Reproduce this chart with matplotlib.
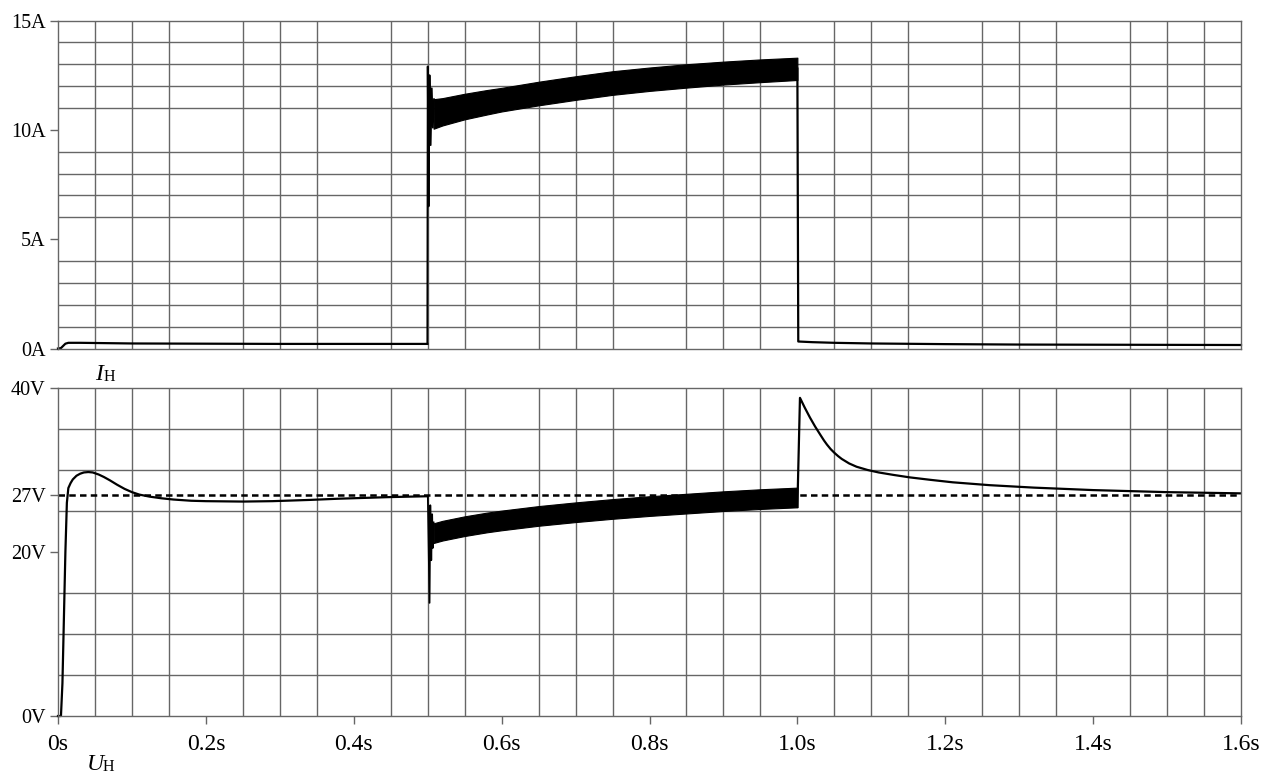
import matplotlib
matplotlib.use("Agg")
import matplotlib.pyplot as plt
from matplotlib.ticker import MultipleLocator

plt.rcParams['font.family'] = ['Liberation Serif', 'DejaVu Serif']

# ---------------- data ----------------
# current I_H (A)
t_i_base = [0.0, 0.004, 0.007, 0.010, 0.014, 0.03, 0.1, 0.3, 0.4995]
i_base = [0.0, 0.02, 0.12, 0.22, 0.26, 0.26, 0.23, 0.21, 0.21]

t_i_ring = [0.4995, 0.5, 0.5012, 0.5025, 0.504, 0.5055, 0.507, 0.5085]
i_ring = [0.21, 12.9, 6.5, 12.5, 9.3, 11.9, 10.1, 11.4]

# envelope of the switching ripple between 0.5 s and 1.0 s
t_env = [0.508, 0.52, 0.55, 0.58, 0.6, 0.65, 0.7, 0.75, 0.8, 0.85, 0.9, 0.95, 1.0]
i_env_hi = [11.4, 11.45, 11.65, 11.82, 11.92, 12.2, 12.45, 12.68, 12.85, 13.0, 13.12, 13.22, 13.3]
i_env_lo = [10.05, 10.2, 10.48, 10.7, 10.84, 11.12, 11.37, 11.6, 11.78, 11.93, 12.07, 12.18, 12.28]

t_i_tail = [1.0, 1.0012, 1.02, 1.05, 1.1, 1.2, 1.3, 1.45, 1.6]
i_tail = [12.8, 0.32, 0.29, 0.26, 0.23, 0.2, 0.18, 0.17, 0.16]

# voltage U_H (V)
t_u_start = [0.0, 0.004, 0.006, 0.008, 0.010, 0.012, 0.014, 0.017, 0.02, 0.025,
             0.03, 0.035, 0.041, 0.047, 0.055, 0.062, 0.07, 0.08, 0.09, 0.1,
             0.11, 0.124, 0.14, 0.156, 0.18, 0.2, 0.25, 0.29, 0.34, 0.38,
             0.45, 0.4998]
u_start = [0.0, 0.0, 4.0, 12.0, 20.0, 26.0, 27.8, 28.4, 28.85, 29.3,
           29.55, 29.7, 29.75, 29.7, 29.45, 29.15, 28.75, 28.2, 27.7, 27.3,
           27.0, 26.75, 26.55, 26.4, 26.25, 26.2, 26.15, 26.2, 26.35, 26.5,
           26.7, 26.8]

t_u_ring = [0.4998, 0.5002, 0.5025, 0.5035, 0.5048, 0.506, 0.507, 0.508]
u_ring = [26.8, 26.8, 13.8, 25.7, 19.0, 24.6, 20.5, 23.6]

u_env_hi = [23.5, 23.8, 24.35, 24.8, 25.05, 25.6, 26.05, 26.45, 26.8, 27.1, 27.4, 27.65, 27.85]
u_env_lo = [21.1, 21.4, 21.95, 22.4, 22.65, 23.2, 23.65, 24.05, 24.4, 24.7, 25.0, 25.25, 25.45]

t_u_tail = [1.0, 1.0035, 1.01, 1.017, 1.024, 1.031, 1.036, 1.04, 1.045, 1.05,
            1.055, 1.06, 1.07, 1.08, 1.095, 1.11, 1.13, 1.152, 1.18, 1.21,
            1.26, 1.32, 1.4, 1.5, 1.6]
u_tail = [25.5, 38.8, 37.6, 36.4, 35.3, 34.3, 33.6, 33.1, 32.55, 32.1,
          31.7, 31.35, 30.8, 30.4, 30.0, 29.7, 29.4, 29.1, 28.8, 28.5,
          28.15, 27.85, 27.55, 27.3, 27.15]

u_ref = 27.0

x_ticks = [0.0, 0.2, 0.4, 0.6, 0.8, 1.0, 1.2, 1.4, 1.6]
x_tick_labels = ['0s', '0.2s', '0.4s', '0.6s', '0.8s', '1.0s', '1.2s', '1.4s', '1.6s']
i_ticks = [0, 5, 10, 15]
i_tick_labels = ['0A', '5A', '10A', '15A']
u_ticks = [0, 20, 27, 40]
u_tick_labels = ['0V', '20V', '27V', '40V']

# ---------------- figure ----------------
W, H = 1264, 773
fig = plt.figure(figsize=(W / 100, H / 100), dpi=100)
fig.patch.set_facecolor('white')

def px_box(x0, y0, x1, y1):
    return [x0 / W, 1 - y1 / H, (x1 - x0) / W, (y1 - y0) / H]

ax_i = fig.add_axes(px_box(58, 20.5, 1241, 348.5))
ax_u = fig.add_axes(px_box(58, 388, 1241, 716))

GRID = '#666666'

def style(ax, ymax, ystep, yticks, ylabels, show_x):
    ax.set_xlim(0, 1.6)
    ax.set_ylim(0, ymax)
    ax.xaxis.set_minor_locator(MultipleLocator(0.05))
    ax.yaxis.set_minor_locator(MultipleLocator(ystep))
    ax.set_xticks(x_ticks)
    ax.set_yticks(yticks)
    ax.set_yticklabels(ylabels, fontsize=14.5)
    if show_x:
        ax.set_xticklabels(x_tick_labels, fontsize=17)
    else:
        ax.set_xticklabels([])
    ax.grid(False, which='major')
    ax.grid(True, which='minor', color=GRID, lw=1.0)
    ax.tick_params(which='minor', length=0)
    ax.tick_params(which='major', direction='out', length=6, width=1.0,
                   color=GRID, pad=3)
    ax.tick_params(axis='x', which='major', pad=7, length=6 if show_x else 0)
    for s in ax.spines.values():
        s.set_color(GRID)
        s.set_linewidth(1.0)
    ax.set_axisbelow(True)

style(ax_i, 15, 1, i_ticks, i_tick_labels, False)
style(ax_u, 40, 5, u_ticks, u_tick_labels, True)

LW = 1.6
# current trace
ax_i.plot(t_i_base, i_base, color='black', lw=LW, clip_on=False)
ax_i.plot(t_i_ring, i_ring, color='black', lw=1.3)
ax_i.fill_between(t_env, i_env_lo, i_env_hi, color='black', lw=0.8)
ax_i.plot(t_i_tail, i_tail, color='black', lw=LW, clip_on=False)

# voltage trace with the 27 V reference level
ax_u.axhline(u_ref, color='black', lw=1.8, linestyle=(0, (2.6, 1.7)))
ax_u.plot(t_u_start, u_start, color='black', lw=LW, clip_on=False)
ax_u.plot(t_u_ring, u_ring, color='black', lw=1.3)
ax_u.fill_between(t_env, u_env_lo, u_env_hi, color='black', lw=0.8)
ax_u.plot(t_u_tail, u_tail, color='black', lw=LW)

# panel labels
fig.text(95 / W, 1 - 380 / H, 'I', fontsize=17, style='italic', va='baseline')
fig.text(104 / W, 1 - 381 / H, 'H', fontsize=11.5, va='baseline')
fig.text(87 / W, 1 - 770 / H, 'U', fontsize=17, style='italic', va='baseline')
fig.text(103 / W, 1 - 771 / H, 'H', fontsize=11.5, va='baseline')

fig.savefig('out.png', dpi=100, facecolor='white')
